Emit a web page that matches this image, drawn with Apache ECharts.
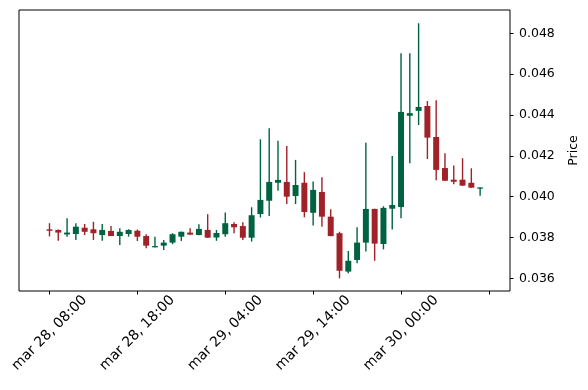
<!DOCTYPE html>
<html><head><meta charset="utf-8">
<script src="https://cdn.jsdelivr.net/npm/echarts@6/dist/echarts.min.js"></script>
<style>html,body{margin:0;padding:0;background:#fff}#c{width:588px;height:390px}</style>
</head><body><div id="c"></div>
<script>
const opens = [0.03840,0.03837,0.03815,0.03817,0.03848,0.03840,0.03812,0.03832,0.03807,0.03817,
  0.03833,0.03807,0.03752,0.03760,0.03775,0.03804,0.03824,0.03812,0.03837,0.03800,
  0.03816,0.03866,0.03856,0.03799,0.03915,0.03980,0.04068,0.04072,0.04003,0.04068,
  0.03921,0.04023,0.03902,0.03821,0.03633,0.03690,0.03775,0.03940,0.03768,0.03941,
  0.03949,0.04396,0.04420,0.04444,0.04292,0.04140,0.04083,0.04083,0.04068,0.04039];
const closes = [0.03833,0.03824,0.03824,0.03853,0.03828,0.03821,0.03837,0.03807,0.03828,0.03837,
  0.03804,0.03760,0.03758,0.03775,0.03816,0.03828,0.03814,0.03842,0.03799,0.03822,
  0.03870,0.03850,0.03799,0.03909,0.03984,0.04072,0.04082,0.04000,0.04057,0.03925,
  0.04033,0.03902,0.03807,0.03637,0.03686,0.03775,0.03940,0.03770,0.03945,0.03959,
  0.04415,0.04409,0.04439,0.04289,0.04131,0.04078,0.04073,0.04054,0.04044,0.04045];
const highs = [0.03870,0.03839,0.03894,0.03870,0.03866,0.03877,0.03866,0.03856,0.03845,0.03840,
  0.03839,0.03816,0.03804,0.03788,0.03821,0.03829,0.03845,0.03865,0.03914,0.03837,
  0.03922,0.03875,0.03875,0.03948,0.04281,0.04335,0.04274,0.04248,0.04180,0.04120,
  0.04074,0.04095,0.03938,0.03828,0.03734,0.03850,0.04264,0.03941,0.03953,0.04199,
  0.04702,0.04702,0.04849,0.04468,0.04472,0.04213,0.04153,0.04188,0.04139,0.04046];
const lows = [0.03805,0.03784,0.03804,0.03788,0.03812,0.03788,0.03784,0.03807,0.03763,0.03804,
  0.03783,0.03747,0.03751,0.03739,0.03767,0.03783,0.03813,0.03811,0.03798,0.03784,
  0.03804,0.03821,0.03788,0.03780,0.03898,0.03905,0.04029,0.03964,0.03964,0.03899,
  0.03859,0.03853,0.03806,0.03600,0.03625,0.03674,0.03731,0.03686,0.03742,0.03839,
  0.03894,0.04163,0.04351,0.04184,0.04080,0.04078,0.04061,0.04053,0.04043,0.04005];
const xTickPositions = [0,10,20,30,40,50];
const xTickLabels = ['mar 28, 08:00','mar 28, 18:00','mar 29, 04:00','mar 29, 14:00','mar 30, 00:00',''];
const yTicks = [0.036,0.038,0.040,0.042,0.044,0.046,0.048];

const UP = '#006340', DOWN = '#a02128';
const data = opens.map((o,i)=>[i,o,closes[i],lows[i],highs[i]]);
const FONT = 'DejaVu Sans';
const chart = echarts.init(document.getElementById('c'), null, {renderer:'canvas'});
chart.setOption({
  animation:false,
  backgroundColor:'#fff',
  grid:{left:19,right:77,top:10,bottom:99,show:true,borderColor:'#000',borderWidth:1,backgroundColor:'transparent'},
  xAxis:{type:'value',min:-3.47,max:52.4,splitLine:{show:false},axisLine:{show:false,onZero:false},
    axisTick:{show:true,customValues:xTickPositions,length:3.5,lineStyle:{color:'#000',width:1}},
    axisLabel:{customValues:xTickPositions,formatter:v=>xTickLabels[xTickPositions.indexOf(Math.round(v))]||'',
      rotate:45,align:'center',verticalAlign:'middle',margin:42,fontSize:14,color:'#000',fontFamily:FONT}},
  yAxis:{type:'value',position:'right',min:0.03538,max:0.04914,splitLine:{show:false},axisLine:{show:false,onZero:false},
    axisTick:{show:true,customValues:yTicks,length:3.5,lineStyle:{color:'#000',width:1}},
    axisLabel:{customValues:yTicks,formatter:v=>v.toFixed(3),margin:9,fontSize:12.5,color:'#000',fontFamily:FONT},
    name:'Price',nameLocation:'middle',nameRotate:90,nameGap:57,nameTextStyle:{fontSize:12.5,color:'#000',fontFamily:FONT}},
  series:[{type:'custom',data:data,encode:{x:0,y:[1,2,3,4]},clip:true,
    renderItem:(params,api)=>{
      const x=api.value(0),o=api.value(1),c=api.value(2),l=api.value(3),h=api.value(4);
      const color = c>=o?UP:DOWN;
      const pO=api.coord([x,o]),pC=api.coord([x,c]),pL=api.coord([x,l]),pH=api.coord([x,h]);
      const bw=api.size([1,0])[0]*0.68;
      const top=Math.min(pO[1],pC[1]);
      let hg=Math.abs(pO[1]-pC[1]); if(hg<1.2) hg=1.2;
      return {type:'group',children:[
        {type:'rect',shape:{x:pH[0]-0.7,y:pH[1],width:1.4,height:pL[1]-pH[1]},style:{fill:color}},
        {type:'rect',shape:{x:pO[0]-bw/2,y:top,width:bw,height:hg},style:{fill:color}}
      ]};
    }}]
});
</script></body></html>
